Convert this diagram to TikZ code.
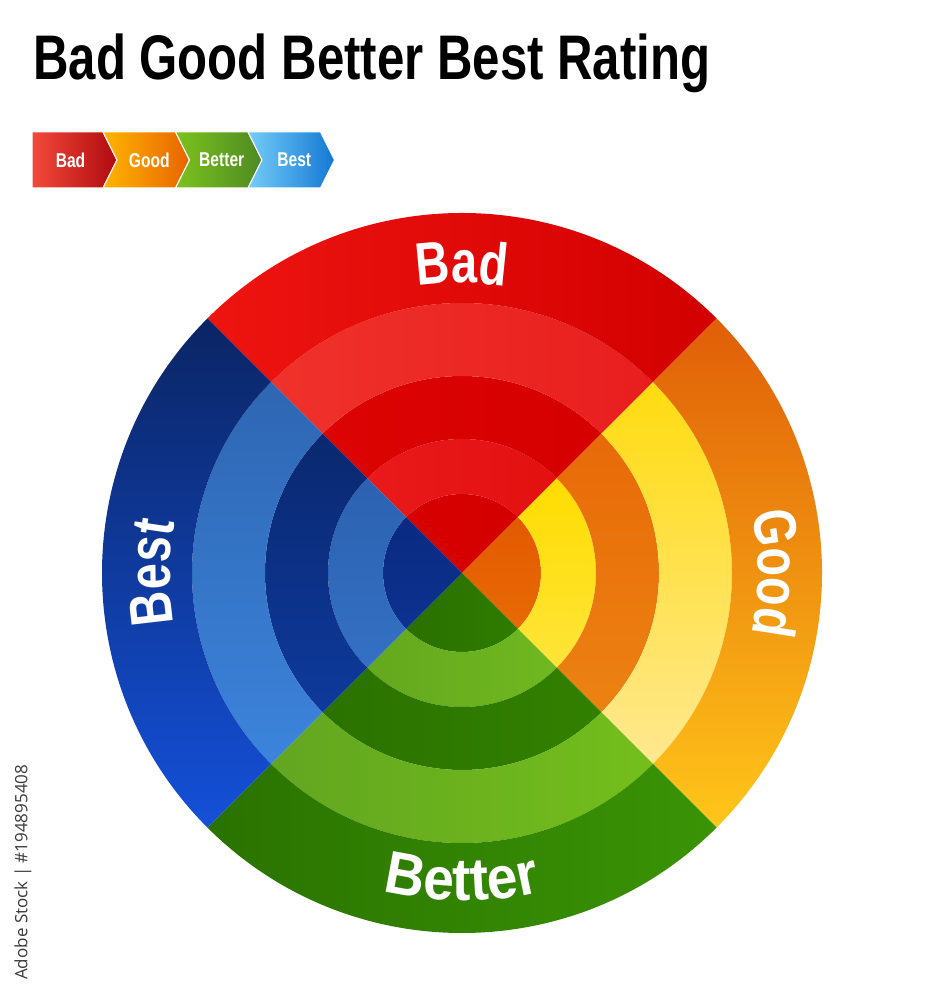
\documentclass[tikz,border=0pt]{standalone}
\usepackage{fontspec}
\usetikzlibrary{decorations.text}
\setmainfont{Liberation Sans}
\newfontfamily\condfont[FakeStretch=0.78]{Liberation Sans}
\newfontfamily\widefont[FakeStretch=0.92]{Liberation Sans}
\newfontfamily\markfont{Open Sans}

% 颜色
\definecolor{bad0a}{HTML}{D80000}\definecolor{bad0b}{HTML}{D30000}
\definecolor{bad1a}{HTML}{EA1A1A}\definecolor{bad1b}{HTML}{E31010}
\definecolor{bad2a}{HTML}{DC0303}\definecolor{bad2b}{HTML}{D60000}
\definecolor{bad3a}{HTML}{F0322B}\definecolor{bad3b}{HTML}{E81E1E}
\definecolor{bad4a}{HTML}{EE1410}\definecolor{bad4b}{HTML}{D20000}
\definecolor{good0a}{HTML}{E35A00}\definecolor{good0b}{HTML}{E86A05}
\definecolor{good1a}{HTML}{FFDC00}\definecolor{good1b}{HTML}{FFE43A}
\definecolor{good2a}{HTML}{E86A08}\definecolor{good2b}{HTML}{EC8212}
\definecolor{good3a}{HTML}{FFDB10}\definecolor{good3b}{HTML}{FFE890}
\definecolor{good4a}{HTML}{E05E08}\definecolor{good4b}{HTML}{FFC619}
\definecolor{bet0a}{HTML}{2A7000}\definecolor{bet0b}{HTML}{2F7C00}
\definecolor{bet1a}{HTML}{64A81E}\definecolor{bet1b}{HTML}{70B820}
\definecolor{bet2a}{HTML}{2B7200}\definecolor{bet2b}{HTML}{328000}
\definecolor{bet3a}{HTML}{62A620}\definecolor{bet3b}{HTML}{74BE1C}
\definecolor{bet4a}{HTML}{2A7200}\definecolor{bet4b}{HTML}{3A9405}
\definecolor{best0a}{HTML}{0A2A80}\definecolor{best0b}{HTML}{0C3290}
\definecolor{best1a}{HTML}{2C62B0}\definecolor{best1b}{HTML}{3470C4}
\definecolor{best2a}{HTML}{0A2870}\definecolor{best2b}{HTML}{0E3A9C}
\definecolor{best3a}{HTML}{2E66B2}\definecolor{best3b}{HTML}{3C84DC}
\definecolor{best4a}{HTML}{0B2564}\definecolor{best4b}{HTML}{1450D8}
\definecolor{chevBadL}{HTML}{F24A3A}\definecolor{chevBadR}{HTML}{B00A10}
\definecolor{chevGoodL}{HTML}{FFB400}\definecolor{chevGoodR}{HTML}{E86400}
\definecolor{chevBetL}{HTML}{7CC21E}\definecolor{chevBetR}{HTML}{4E8A22}
\definecolor{chevBestL}{HTML}{74CCF8}\definecolor{chevBestR}{HTML}{1478D4}
\definecolor{markgray}{HTML}{3A3A3A}

\tikzset{
  bad band/.style 2 args={left color=#1, right color=#2},
  bet band/.style 2 args={left color=#1, right color=#2},
  good band/.style 2 args={top color=#1, bottom color=#2},
  best band/.style 2 args={top color=#1, bottom color=#2},
  ring label/.style 2 args={decorate, decoration={text along path, text color=white,
      text align=center, text={|#1\bfseries\fontsize{60}{60}\selectfont|#2}}},
  chev label/.style={text=white, font=\condfont\bfseries\fontsize{20}{20}\selectfont, inner sep=0}
}

\begin{document}
\begin{tikzpicture}[x=1pt, y=1pt]

    \fill[white] (0,0) rectangle (924,1000);
    \useasboundingbox (0,0) rectangle (924,1000);

    % 标题
    \node[anchor=base west, inner sep=0] (title) at (33,920)
        {\condfont\bfseries\fontsize{63}{63}\selectfont Bad Good Better Best Rating};

    % 箭头条
    \def\Cw{72.5}  % 步长
    \def\Tip{14}   % 尖角深度
    \foreach \name/\lc/\rc [count=\i from 0] in {Bad/chevBadL/chevBadR, Good/chevGoodL/chevGoodR,
                                               Better/chevBetL/chevBetR, Best/chevBestL/chevBestR} {
        \pgfmathsetmacro\xl{\i==0 ? 32 : 103+(\i-1)*\Cw}
        \pgfmathsetmacro\nt{\i==0 ? 0 : \Tip}
        \pgfmathsetmacro\xr{103+\i*\Cw}
        \shade[left color=\lc, right color=\rc, draw=white, line width=1pt]
            (\xl,868) -- (\xr,868) -- (\xr+\Tip,840) -- (\xr,812) -- (\xl,812) -- (\xl+\nt,840) -- cycle;
        \node[chev label] (chev-\i) at ({(\xl+\nt+\xr)/2+3},840) {\name};
    }

    % 圆环
    \begin{scope}[shift={(462,427)}]
        \foreach \qa/\qn in {45/bad, -45/good, 225/bet, 135/best} {
            \pgfmathsetmacro\qb{\qa+90}
            \foreach \ri/\ro/\k in {0.01/79/0, 79/134/1, 134/197/2, 197/270/3, 270/360/4} {
                \shade[\qn\space band={\qn\k a}{\qn\k b}]
                    (\qa:\ri pt) arc[start angle=\qa, end angle=\qb, radius=\ri pt]
                    -- (\qb:\ro pt) arc[start angle=\qb, end angle=\qa, radius=\ro pt] -- cycle;
            }
        }

        % 环上文字
        \path[ring label={\condfont}{Bad}]    (135:290pt) arc[start angle=135, end angle=45,  radius=290pt];
        \path[ring label={\condfont}{Good}]   (45:296pt)  arc[start angle=45,  end angle=-45, radius=296pt];
        \path[ring label={\condfont}{Best}]   (225:292pt) arc[start angle=225, end angle=135, radius=292pt];
        \path[ring label={\widefont}{Better}] (225:328pt) arc[start angle=225, end angle=315, radius=328pt];
    \end{scope}

    % 图片编号
    \node[rotate=90, anchor=west, inner sep=0, text=markgray] (stockid) at (23,20)
        {\markfont\fontsize{17}{17}\selectfont Adobe Stock | \#194895408};

\end{tikzpicture}
\end{document}
